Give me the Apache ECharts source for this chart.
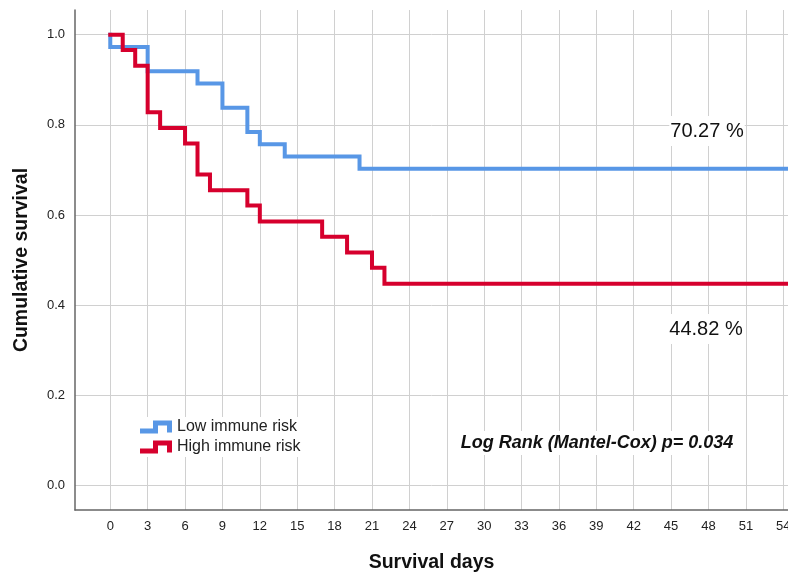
<!DOCTYPE html>
<html>
<head>
<meta charset="utf-8">
<script src="https://cdn.jsdelivr.net/npm/echarts@6/dist/echarts.min.js"></script>
<style>html,body{margin:0;padding:0;background:#fff;overflow:hidden}#c{width:788px;height:574px}</style>
</head>
<body>
<div id="c"></div>
<script>
// ---- data ----
var xTicks = [0,3,6,9,12,15,18,21,24,27,30,33,36,39,42,45,48,51,54];
var yTicks = [0,0.2,0.4,0.6,0.8,1.0];
var lowDays  = [0, 0, 3, 7, 9, 11, 12, 14, 20, 56];
var lowSurv  = [1.0, 0.973, 0.919, 0.892, 0.838, 0.784, 0.757, 0.730, 0.703, 0.703];
var highDays = [0, 1, 2, 3, 4, 6, 7, 8, 11, 12, 17, 19, 21, 22, 56];
var highSurv = [1.0, 0.966, 0.931, 0.828, 0.793, 0.759, 0.690, 0.655, 0.621, 0.586, 0.552, 0.517, 0.483, 0.448, 0.448];
var seriesNames = ['Low immune risk', 'High immune risk'];
var lowFinal = '70.27 %';
var highFinal = '44.82 %';
var testText = 'Log Rank (Mantel-Cox) p= 0.034';

function pairs(xs, ys){ return xs.map(function(x,i){ return [x, ys[i]]; }); }

var FONT = '"Liberation Sans", Arial, Helvetica, sans-serif';
var stepIcon = 'path://M0,8 L13,8 L13,0 L32,0 L32,12 L27,12 L27,5 L18,5 L18,13 L0,13 Z';

var chart = echarts.init(document.getElementById('c'), null, {renderer: 'canvas', width: 788, height: 574});
chart.setOption({
  animation: false,
  backgroundColor: '#fff',
  textStyle: {fontFamily: FONT},
  grid: {left: 75, top: 10, width: 713, height: 500, containLabel: false, outerBoundsMode: 'none'},
  xAxis: {
    type: 'value', min: -2.83, max: 54.38,
    name: 'Survival days', nameLocation: 'middle', nameGap: 43,
    nameTextStyle: {fontSize: 19.5, fontWeight: 'bold', color: '#111', fontFamily: FONT},
    axisLine: {show: true, onZero: false, lineStyle: {color: '#666', width: 1.5}},
    axisTick: {show: false, customValues: xTicks},
    axisLabel: {customValues: xTicks, fontSize: 13, color: '#222', margin: 10, fontFamily: FONT},
    splitLine: {show: true, lineStyle: {color: '#d0d0d0', width: 1}}
  },
  yAxis: {
    type: 'value', min: -0.054, max: 1.0548,
    name: 'Cumulative survival', nameLocation: 'middle', nameGap: 43,
    nameTextStyle: {fontSize: 19.5, fontWeight: 'bold', color: '#111', fontFamily: FONT},
    axisLine: {show: true, onZero: false, lineStyle: {color: '#666', width: 1.5}},
    axisTick: {show: false, customValues: yTicks},
    axisLabel: {customValues: yTicks, fontSize: 13, color: '#222', margin: 10, fontFamily: FONT,
      formatter: function(v){ return v.toFixed(1); }},
    splitLine: {show: true, lineStyle: {color: '#d0d0d0', width: 1}}
  },
  legend: {
    orient: 'vertical', left: 138, top: 417,
    itemWidth: 32, itemHeight: 13, itemGap: 4,
    backgroundColor: '#fff', padding: [2, 2],
    textStyle: {fontSize: 16, color: '#222', fontFamily: FONT},
    itemStyle: {borderWidth: 0},
    data: [
      {name: seriesNames[0], icon: stepIcon},
      {name: seriesNames[1], icon: stepIcon}
    ]
  },
  series: [
    {
      name: seriesNames[0], type: 'line', step: 'end', showSymbol: false, symbol: 'none',
      data: pairs(lowDays, lowSurv),
      itemStyle: {color: '#5897e6'},
      lineStyle: {color: '#5897e6', width: 4, join: 'miter', cap: 'square'}
    },
    {
      name: seriesNames[1], type: 'line', step: 'end', showSymbol: false, symbol: 'none',
      data: pairs(highDays, highSurv),
      itemStyle: {color: '#d6002d'},
      lineStyle: {color: '#d6002d', width: 4, join: 'miter', cap: 'square'}
    }
  ],
  graphic: [
    {type: 'text', x: 707, y: 131, z: 100, style: {text: lowFinal, align: 'center', verticalAlign: 'middle',
      font: '20px ' + FONT, fill: '#111', backgroundColor: '#fff', padding: [5, 1]}},
    {type: 'text', x: 706, y: 329, z: 100, style: {text: highFinal, align: 'center', verticalAlign: 'middle',
      font: '20px ' + FONT, fill: '#111', backgroundColor: '#fff', padding: [5, 1]}},
    {type: 'text', x: 597, y: 443, z: 100, style: {text: testText, align: 'center', verticalAlign: 'middle',
      font: 'italic bold 18px ' + FONT, fill: '#111', backgroundColor: '#fff', padding: [3, 1]}}
  ]
});
</script>
</body>
</html>
